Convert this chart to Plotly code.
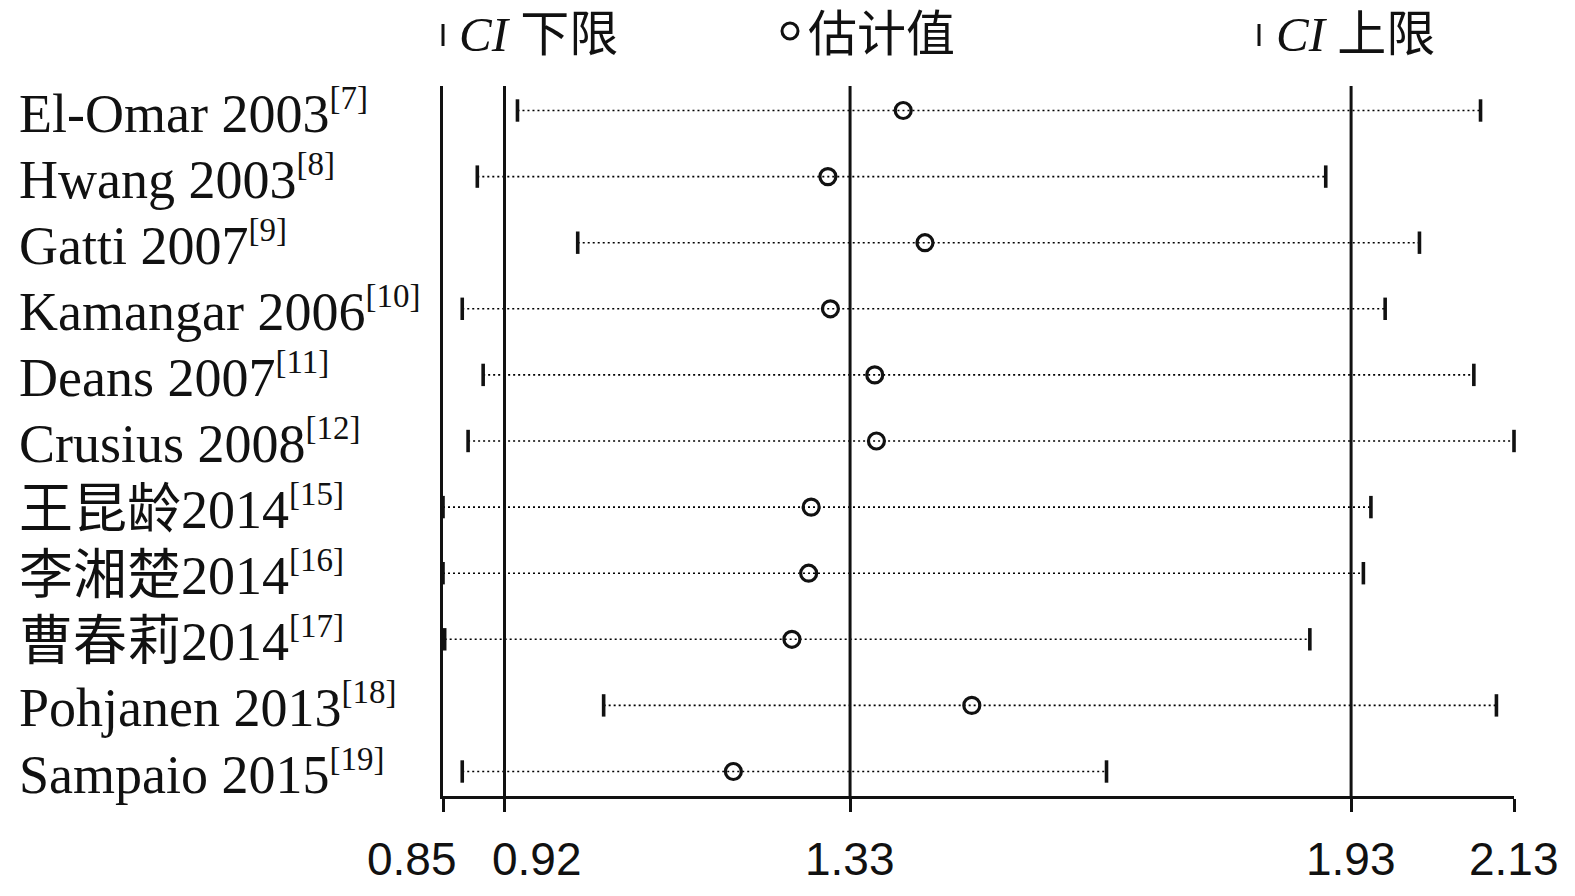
import plotly.graph_objects as go

# ---------------- data ----------------
studies = ["El-Omar 2003", "Hwang 2003", "Gatti 2007", "Kamangar 2006", "Deans 2007",
           "Crusius 2008", "王昆龄2014", "李湘楚2014", "曹春莉2014", "Pohjanen 2013", "Sampaio 2015"]
refs = ["[7]", "[8]", "[9]", "[10]", "[11]", "[12]", "[15]", "[16]", "[17]", "[18]", "[19]"]
estimate = [1.400, 1.310, 1.426, 1.313, 1.366, 1.368, 1.290, 1.287, 1.267, 1.482, 1.197]
ci_lower = [0.939, 0.891, 1.011, 0.873, 0.898, 0.880, 0.850, 0.850, 0.852, 1.042, 0.873]
ci_upper = [2.090, 1.905, 2.017, 1.976, 2.082, 2.130, 1.959, 1.950, 1.886, 2.109, 1.643]
pooled = [0.9235, 1.3365, 1.9353]          # combined CI lower, estimate, CI upper
axis_min, axis_max = 0.85, 2.13
tick_vals = [0.85, 0.9235, 1.3365, 1.9353, 2.13]
tick_text = ["0.85", "0.92", "1.33", "1.93", "2.13"]
legend_text = ["<i>CI</i> 下限", "估计值", "<i>CI</i> 上限"]

# ---------------- layout constants (page pixels; the page body adds an 8px offset) ----------------
OFF = 8
W, H = 1575 - OFF, 896 - OFF
PL, PR, PT, PB = 443, 1514, 86, 796          # plot area edges in page pixels
L, R, T, B = PL - OFF, W - (PR - OFF), PT - OFF, H - (PB - OFF)
PW, PH = PR - PL, PB - PT
SERIF = "Liberation Serif, Noto Sans CJK SC, serif"
SANS = "Liberation Sans Narrow, Liberation Sans, Arial, sans-serif"
rows = list(range(1, len(studies) + 1))
INK = "#111"

fig = go.Figure()

# dotted CI lines
lx, ly = [], []
for r, lo, hi in zip(rows, ci_lower, ci_upper):
    lx += [lo, hi, None]
    ly += [r, r, None]
fig.add_trace(go.Scatter(x=lx, y=ly, mode="lines",
                         line=dict(color="#000", width=1.6, dash="2px,3px"),
                         hoverinfo="skip", showlegend=False))
# CI end bars
for vals in (ci_lower, ci_upper):
    fig.add_trace(go.Scatter(x=vals, y=rows, mode="markers", cliponaxis=False,
                             marker=dict(symbol="line-ns", size=16, color=INK,
                                         line=dict(width=3.6, color=INK)),
                             showlegend=False))
# estimates
fig.add_trace(go.Scatter(x=estimate, y=rows, mode="markers", cliponaxis=False,
                         marker=dict(symbol="circle-open", size=16, color=INK,
                                     line=dict(width=3.2, color=INK)),
                         showlegend=False))

# pooled reference lines
for v in pooled:
    fig.add_shape(type="line", xref="x", yref="paper", x0=v, x1=v, y0=0, y1=1,
                  line=dict(color=INK, width=3))


def px_to_xpaper(px):
    return (px - PL) / PW


def px_to_ypaper(py):
    return 1 - (py - PT) / PH


# study labels
for r, s, ref in zip(rows, studies, refs):
    fig.add_annotation(x=px_to_xpaper(17), xref="paper", y=r, yref="y",
                       xanchor="left", yanchor="middle", showarrow=False,
                       text=f"{s}<sup><span style='font-size:33px'>{ref}</span></sup>",
                       yshift=-1,
                       font=dict(family=SERIF, size=54, color=INK))

# x tick labels (first two nudged apart as in the original)
shifts = [-31, 32, 0, 0, 0]
for v, t, sh in zip(tick_vals, tick_text, shifts):
    fig.add_annotation(x=v, xref="x", y=0, yref="paper", yanchor="top", xanchor="center",
                       showarrow=False, text=t, xshift=sh, yshift=-35,
                       font=dict(family=SANS, size=46, color=INK))

# legend on top
for bx in (443, 1259):
    fig.add_shape(type="line", xref="paper", yref="paper",
                  x0=px_to_xpaper(bx), x1=px_to_xpaper(bx),
                  y0=px_to_ypaper(24), y1=px_to_ypaper(46), line=dict(color=INK, width=3))
fig.add_shape(type="circle", xref="paper", yref="paper",
              x0=px_to_xpaper(782), x1=px_to_xpaper(798),
              y0=px_to_ypaper(23), y1=px_to_ypaper(39), line=dict(color=INK, width=3))
for xpx, t in zip([457, 806, 1274], legend_text):
    fig.add_annotation(x=px_to_xpaper(xpx), xref="paper", y=px_to_ypaper(34), yref="paper",
                       xanchor="left", yanchor="middle", showarrow=False, text=t,
                       font=dict(family=SERIF, size=49, color=INK))

# axes
row_px0 = 110.5
row_step = 66.1
top_val = 1 - (row_px0 - PT) / row_step
bot_val = 1 + (PB - row_px0) / row_step
fig.update_xaxes(range=[axis_min, axis_max], showgrid=False, zeroline=False,
                 showline=True, linewidth=3, linecolor=INK,
                 ticks="outside", ticklen=13, tickwidth=3, tickcolor=INK,
                 tickvals=tick_vals, ticktext=tick_text, showticklabels=False)
fig.update_yaxes(range=[bot_val, top_val], showgrid=False, zeroline=False,
                 showline=True, linewidth=3, linecolor=INK, showticklabels=False, ticks="")

fig.update_layout(width=W, height=H, margin=dict(l=L, r=R, t=T, b=B),
                  plot_bgcolor="white", paper_bgcolor="white", showlegend=False)

fig.write_html("out.html")
